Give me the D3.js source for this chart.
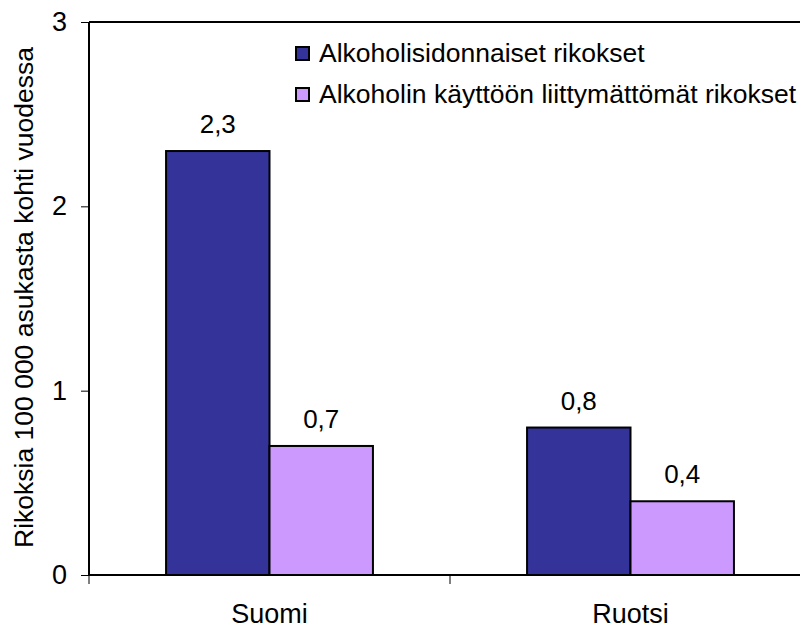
<!DOCTYPE html>
<html>
<head>
  <meta charset="utf-8">
  <script src="https://d3js.org/d3.v7.min.js"></script>
  <style>
    body { margin: 0; background: #fff; }
    svg { font-family: "Liberation Sans", Arial, sans-serif; }
  </style>
</head>
<body>
<div id="chart"></div>
<script>
  // data
  var categories = ["Suomi", "Ruotsi"];
  var seriesNames = ["Alkoholisidonnaiset rikokset", "Alkoholin käyttöön liittymättömät rikokset"];
  var alcoholRelated = [2.3, 0.8];
  var notRelated = [0.7, 0.4];
  var valueLabels = [["2,3", "0,8"], ["0,7", "0,4"]];
  var yTicks = [0, 1, 2, 3];
  var colors = ["#333399", "#CC99FF"];

  var series = [alcoholRelated, notRelated];

  var margin = { top: 22, right: -11, bottom: 55, left: 89 },
    width = 800 - margin.left - margin.right,
    height = 630 - margin.top - margin.bottom;

  var svg = d3.select("#chart").append("svg")
    .attr("width", 800)
    .attr("height", 630)
    .append("g")
    .attr("transform", "translate(" + margin.left + "," + margin.top + ")");

  var x0 = d3.scaleBand().domain(categories).range([0, width]).paddingInner(0).paddingOuter(0);
  var x1 = d3.scaleBand().domain([0, 1]).range([0, x0.bandwidth()]).paddingOuter(0.745).paddingInner(0);
  var y = d3.scaleLinear().domain([0, 3]).range([height, 0]);

  // plot frame (top line)
  svg.append("line")
    .attr("x1", 0).attr("x2", width)
    .attr("y1", 0).attr("y2", 0)
    .attr("stroke", "#000").attr("stroke-width", 2);

  // bars
  series.forEach(function (vals, s) {
    svg.selectAll(".bar" + s)
      .data(vals)
      .enter().append("rect")
      .attr("x", function (d, i) { return x0(categories[i]) + x1(s); })
      .attr("width", x1.bandwidth())
      .attr("y", function (d) { return y(d); })
      .attr("height", function (d) { return height - y(d); })
      .attr("fill", colors[s])
      .attr("stroke", "#000")
      .attr("stroke-width", 2);

    svg.selectAll(".lab" + s)
      .data(vals)
      .enter().append("text")
      .attr("x", function (d, i) { return x0(categories[i]) + x1(s) + x1.bandwidth() / 2; })
      .attr("y", function (d) { return y(d) - 18; })
      .attr("text-anchor", "middle")
      .style("font-size", "26px")
      .text(function (d, i) { return valueLabels[s][i]; });
  });

  // y axis
  var yAxis = svg.append("g")
    .call(d3.axisLeft(y).tickValues(yTicks).tickSize(8).tickPadding(14).tickFormat(d3.format("d")));
  yAxis.select(".domain").attr("stroke", "#000").attr("stroke-width", 2).attr("d", "M0," + height + "V0");
  yAxis.selectAll(".tick line").attr("stroke", "#000").attr("stroke-width", 1);
  yAxis.selectAll(".tick text").style("font-size", "27px").attr("font-family", null).attr("fill", "#000");

  // x axis
  var xAxis = svg.append("g")
    .attr("transform", "translate(0," + height + ")")
    .call(d3.axisBottom(x0).tickSize(0));
  xAxis.select(".domain").attr("stroke", "#000").attr("stroke-width", 2).attr("d", "M0,0H" + width);
  xAxis.selectAll(".tick text").style("font-size", "27px").attr("font-family", null).attr("fill", "#000")
    .attr("dy", null).attr("y", 48);
  // category separators
  xAxis.selectAll(".sep")
    .data([0, x0.bandwidth()])
    .enter().append("line")
    .attr("x1", function (d) { return d; }).attr("x2", function (d) { return d; })
    .attr("y1", 0).attr("y2", 9)
    .attr("stroke", "#000").attr("stroke-width", 1);

  // y title
  svg.append("text")
    .attr("transform", "rotate(-90)")
    .attr("x", -height / 2 + 1)
    .attr("y", -margin.left + 33)
    .attr("text-anchor", "middle")
    .style("font-size", "26.5px")
    .text("Rikoksia 100 000 asukasta kohti vuodessa");

  // legend
  var legend = svg.append("g").attr("transform", "translate(207,25)");
  seriesNames.forEach(function (name, i) {
    var g = legend.append("g").attr("transform", "translate(0," + (i * 41) + ")");
    g.append("rect")
      .attr("x", 0).attr("y", 0).attr("width", 13).attr("height", 13)
      .attr("fill", colors[i]).attr("stroke", "#000").attr("stroke-width", 2);
    g.append("text")
      .attr("x", 23).attr("y", 15)
      .style("font-size", "26.5px")
      .text(name);
  });
</script>
</body>
</html>
